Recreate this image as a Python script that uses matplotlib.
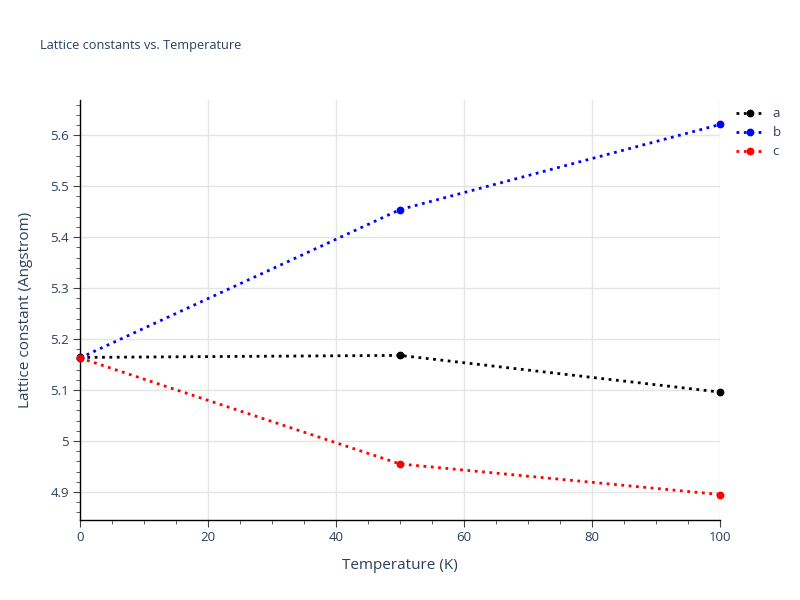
import numpy as np
import matplotlib
matplotlib.use('Agg')
from matplotlib import pyplot as plt
from matplotlib.ticker import MultipleLocator, FixedLocator

plt.rcParams['font.family'] = ['Open Sans', 'DejaVu Sans']

# Datos
temperature = [0, 50, 100]
a = [5.164, 5.168, 5.096]
b = [5.163, 5.454, 5.621]
c = [5.163, 4.955, 4.895]
series = [('a', a, 'black'), ('b', b, 'blue'), ('c', c, 'red')]

x_ticks = [0, 20, 40, 60, 80, 100]
y_ticks = [4.9, 5.0, 5.1, 5.2, 5.3, 5.4, 5.5, 5.6]
y_labels = ['4.9', '5', '5.1', '5.2', '5.3', '5.4', '5.5', '5.6']

txt = '#2a3f5f'

fig = plt.figure(figsize=(8, 6), dpi=100)
ax = fig.add_axes([0.1, 0.1333, 0.8, 0.7])

for name, vals, col in series:
    ax.plot(temperature, vals, linestyle=':', linewidth=2, color=col,
            marker='o', markersize=4.6, label=name, clip_on=False, zorder=3)

ax.set_xlim(0, 100)
ax.set_ylim(4.845, 5.669)
ax.xaxis.set_major_locator(FixedLocator(x_ticks))
ax.xaxis.set_minor_locator(MultipleLocator(5))
ax.set_yticks(y_ticks)
ax.set_yticklabels(y_labels)
ax.yaxis.set_minor_locator(MultipleLocator(0.02))

ax.grid(True, which='major', color='#e5e5e5', linewidth=1)
ax.set_axisbelow(True)
for s in ['top', 'right']:
    ax.spines[s].set_visible(False)
for s in ['left', 'bottom']:
    ax.spines[s].set_color('black')
    ax.spines[s].set_linewidth(1)

ax.tick_params(which='major', length=5, color='#444444', labelsize=9.5,
               labelcolor=txt, pad=3)
ax.tick_params(which='minor', length=3, color='#444444')

ax.set_xlabel('Temperature (K)', fontsize=11, color=txt, labelpad=10)
ax.set_ylabel('Lattice constant (Angstrom)', fontsize=11, color=txt, labelpad=12)

fig.text(0.05, 0.925, 'Lattice constants vs. Temperature', fontsize=9.2,
         color=txt, va='center')

leg = fig.legend(loc='upper left', bbox_to_anchor=(0.913, 0.83), frameon=False,
                 fontsize=9.5, handlelength=2.2, labelspacing=0.45,
                 handletextpad=0.6, borderaxespad=0)
for t in leg.get_texts():
    t.set_color(txt)

fig.savefig('out.png', dpi=100)
